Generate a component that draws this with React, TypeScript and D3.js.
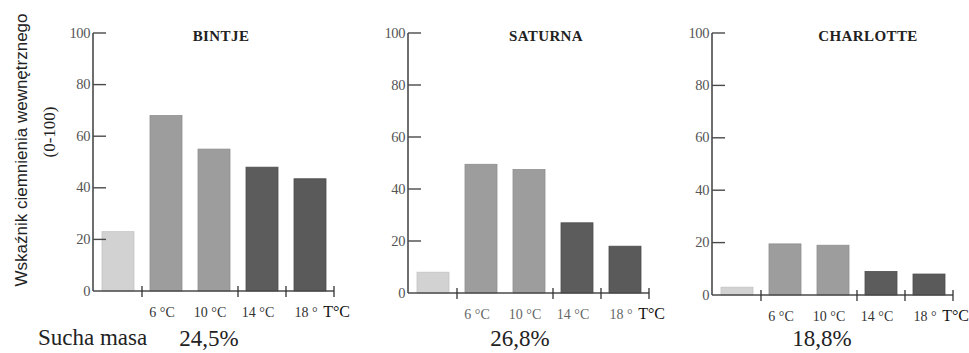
import React from "react";
import * as d3 from "d3";

const varieties = ["BINTJE", "SATURNA", "CHARLOTTE"];
const categories = ["kontrola", "6 °C", "10 °C", "14 °C", "18 °C"];
const xLabels = ["", "6 °C", "10 °C", "14 °C", "18 °"];
const bintjeValues = [23, 68, 55, 48, 43.5];
const saturnaValues = [8, 49.5, 47.5, 27, 18];
const charlotteValues = [3, 19.5, 19, 9, 8];
const dryMass = ["24,5%", "26,8%", "18,8%"];
const yTicks = [0, 20, 40, 60, 80, 100];
const tickAfter = [0, 2, 3, 4];

const seriesValues = [bintjeValues, saturnaValues, charlotteValues];
const barColors = ["#d2d2d2", "#9d9d9d", "#9d9d9d", "#5c5c5c", "#5a5a5a"];
const barStroke = ["#c4c4c4", "#8e8e8e", "#8e8e8e", "#4e4e4e", "#4c4c4c"];

const panels = [
  { axisX: 93, y0: 291, y100: 33, pct: 116, titleDx: 128 },
  { axisX: 408, y0: 293, y100: 33, pct: 112, titleDx: 138 },
  { axisX: 712, y0: 295, y100: 33, pct: 110, titleDx: 156 },
];

const serif = "Liberation Serif, DejaVu Serif, Times New Roman, serif";
const sans = "Liberation Sans, Arial, sans-serif";

function Panel({ idx }: { idx: number }) {
  const p = panels[idx];
  const values = seriesValues[idx];
  const y = d3.scaleLinear().domain([0, 100]).range([p.y0, p.y100]);
  const x = d3
    .scaleBand<string>()
    .domain(categories)
    .range([p.axisX + 1, p.axisX + 241])
    .paddingInner(1 / 3)
    .paddingOuter(1 / 6);
  const bw = x.bandwidth();
  const gap = x.step() - bw;
  const tickXs = tickAfter.map((i) => (x(categories[i]) as number) + bw + gap / 2);
  const axisEnd = tickXs[tickXs.length - 1];
  return (
    <g>
      {values.map((v, i) => (
        <rect
          key={i}
          x={x(categories[i])}
          y={y(v)}
          width={bw}
          height={y(0) - y(v)}
          fill={barColors[i]}
          stroke={barStroke[i]}
          strokeWidth={0.8}
        />
      ))}
      <line x1={p.axisX} x2={p.axisX} y1={y(100)} y2={y(0)} stroke="#4a4a4a" strokeWidth={1.6} />
      <line x1={p.axisX} x2={axisEnd} y1={y(0)} y2={y(0)} stroke="#4a4a4a" strokeWidth={1.6} />
      {yTicks.map((t) => (
        <g key={t}>
          {t > 0 && (
            <line x1={p.axisX} x2={p.axisX + 13} y1={y(t)} y2={y(t)} stroke="#4a4a4a" strokeWidth={1.4} />
          )}
          <text
            x={p.axisX - 3}
            y={y(t) + 4.5}
            textAnchor="end"
            style={{ fontFamily: serif, fontSize: 14.5, letterSpacing: -0.4 }}
            fill="#555"
          >
            {t}
          </text>
        </g>
      ))}
      {tickXs.map((tx, i) => (
        <line key={i} x1={tx} x2={tx} y1={y(0) - 5} y2={y(0) + 6} stroke="#333" strokeWidth={1.3} />
      ))}
      {xLabels.map((l, i) =>
        l ? (
          <text
            key={i}
            x={(x(categories[i]) as number) + bw / 2 - 4}
            y={y(0) + 26}
            textAnchor="middle"
            style={{ fontFamily: serif, fontSize: 14 }}
            fill={idx === 1 ? "#666" : "#333"}
          >
            {l}
          </text>
        ) : null
      )}
      <text x={axisEnd + 16} y={y(0) + 26} textAnchor="end" style={{ fontFamily: serif, fontSize: 16 }} fill="#111">
        T°C
      </text>
      <text
        x={p.axisX + p.titleDx}
        y={41}
        textAnchor="middle"
        style={{ fontFamily: serif, fontSize: 15, fontWeight: "bold", letterSpacing: 0.4 }}
        fill="#222"
      >
        {varieties[idx]}
      </text>
      <text
        x={p.axisX + p.pct}
        y={346}
        textAnchor="middle"
        style={{ fontFamily: serif, fontSize: 23 }}
        fill="#222"
      >
        {dryMass[idx]}
      </text>
    </g>
  );
}

export default function App() {
  return (
    <svg width={969} height={353} style={{ position: "absolute", left: 0, top: 0, background: "#fff" }}>
      <rect x={0} y={0} width={969} height={353} fill="#fff" />
      <text
        transform="translate(27,150) rotate(-90)"
        textAnchor="middle"
        style={{ fontFamily: sans, fontSize: 17 }}
        fill="#222"
      >
        Wskaźnik ciemnienia wewnętrznego
      </text>
      <text
        transform="translate(55,132) rotate(-90)"
        textAnchor="middle"
        style={{ fontFamily: serif, fontSize: 17 }}
        fill="#222"
      >
        (0-100)
      </text>
      <text x={38} y={345} style={{ fontFamily: serif, fontSize: 23 }} fill="#222">
        Sucha masa
      </text>
      {panels.map((_, i) => (
        <Panel key={i} idx={i} />
      ))}
    </svg>
  );
}
